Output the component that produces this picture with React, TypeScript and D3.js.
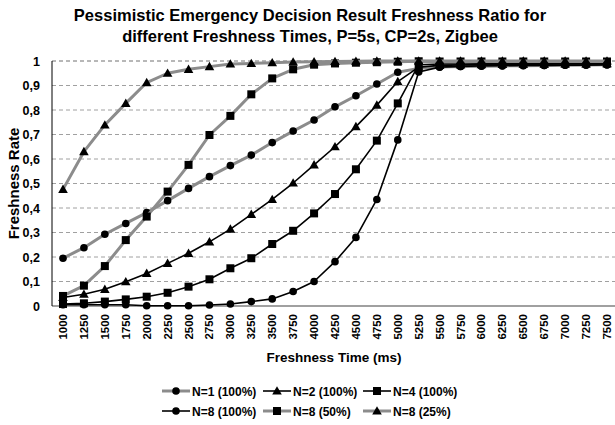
import React from "react";
import * as d3 from "d3";

const categories = [
  1000, 1250, 1500, 1750, 2000, 2250, 2500, 2750, 3000, 3250, 3500, 3750, 4000, 4250,
  4500, 4750, 5000, 5250, 5500, 5750, 6000, 6250, 6500, 6750, 7000, 7250, 7500,
];

const n1_100 = [0.195, 0.238, 0.293, 0.337, 0.381, 0.43, 0.48, 0.528, 0.573, 0.616, 0.667, 0.714, 0.759, 0.813, 0.858, 0.906, 0.954, 0.97, 0.976, 0.978, 0.979, 0.98, 0.981, 0.982, 0.983, 0.984, 0.985];
const n2_100 = [0.035, 0.048, 0.068, 0.099, 0.133, 0.174, 0.215, 0.262, 0.314, 0.374, 0.435, 0.502, 0.576, 0.65, 0.732, 0.82, 0.916, 0.975, 0.982, 0.984, 0.985, 0.986, 0.987, 0.987, 0.988, 0.988, 0.989];
const n4_100 = [0.008, 0.011, 0.018, 0.027, 0.038, 0.054, 0.079, 0.109, 0.154, 0.195, 0.253, 0.307, 0.378, 0.457, 0.558, 0.675, 0.827, 0.985, 0.988, 0.988, 0.989, 0.989, 0.99, 0.99, 0.99, 0.99, 0.99];
const n8_100 = [0.005, 0.005, 0.005, 0.005, 0.001, 0.001, 0.001, 0.004, 0.008, 0.018, 0.029, 0.059, 0.1, 0.181, 0.28, 0.435, 0.678, 0.955, 0.975, 0.978, 0.98, 0.981, 0.982, 0.982, 0.983, 0.983, 0.984];
const n8_50 = [0.041, 0.083, 0.163, 0.269, 0.365, 0.467, 0.576, 0.698, 0.776, 0.864, 0.929, 0.966, 0.985, 0.99, 0.993, 0.995, 0.997, 0.999, 0.998, 0.998, 0.998, 0.998, 0.998, 0.998, 0.998, 0.998, 0.998];
const n8_25 = [0.476, 0.63, 0.739, 0.827, 0.912, 0.95, 0.966, 0.977, 0.988, 0.99, 0.993, 0.996, 0.997, 0.998, 0.999, 1.0, 1.0, 1.0, 1.0, 1.0, 1.0, 1.0, 1.0, 1.0, 1.0, 1.0, 1.0];

const yTicks = [0, 0.1, 0.2, 0.3, 0.4, 0.5, 0.6, 0.7, 0.8, 0.9, 1];

type Marker = "circle" | "triangle" | "square";
const seriesList: { name: string; values: number[]; color: string; width: number; marker: Marker }[] = [
  { name: "N=1 (100%)", values: n1_100, color: "#8c8c8c", width: 3, marker: "circle" },
  { name: "N=2 (100%)", values: n2_100, color: "#000000", width: 1.6, marker: "triangle" },
  { name: "N=4 (100%)", values: n4_100, color: "#000000", width: 1.6, marker: "square" },
  { name: "N=8 (100%)", values: n8_100, color: "#000000", width: 1.6, marker: "circle" },
  { name: "N=8 (50%)", values: n8_50, color: "#8c8c8c", width: 3, marker: "square" },
  { name: "N=8 (25%)", values: n8_25, color: "#8c8c8c", width: 3, marker: "triangle" },
];

const FONT = "'Liberation Sans', Arial, Helvetica, sans-serif";

function MarkerShape({ type, x, y }: { type: Marker; x: number; y: number }) {
  if (type === "circle") return <circle cx={x} cy={y} r={3.8} fill="#000" />;
  if (type === "square") return <rect x={x - 4} y={y - 4} width={8} height={8} fill="#000" />;
  const s = 4.8;
  return <path d={`M${x},${y - s}L${x + s},${y + s * 0.75}L${x - s},${y + s * 0.75}Z`} fill="#000" />;
}

export default function App() {
  const W = 615;
  const H = 425;
  const plotLeft = 52;
  const plotRight = 615;
  const x = d3.scalePoint<number>().domain(categories).range([63, 607]);
  const y = d3.scaleLinear().domain([0, 1]).range([306, 61]);
  const line = d3
    .line<number>()
    .x((_, i) => x(categories[i]) as number)
    .y((d) => y(d));

  const legendCols = [162, 263, 363];
  const legendRows = [391, 411];

  return (
    <svg
      width={W}
      height={H}
      style={{ position: "absolute", left: 0, top: 0, background: "#fff" }}
      fontFamily={FONT}
    >
      <rect x={0} y={0} width={W} height={H} fill="#fff" />
      <text x={310} y={21} textAnchor="middle" fontSize={16.5} fontWeight="bold" fill="#000">
        Pessimistic Emergency Decision Result Freshness Ratio for
      </text>
      <text x={310} y={42} textAnchor="middle" fontSize={16.5} fontWeight="bold" fill="#000">
        different Freshness Times, P=5s, CP=2s, Zigbee
      </text>

      {yTicks.filter((t) => t > 0).map((t) => (
        <line
          key={t}
          x1={plotLeft}
          x2={plotRight}
          y1={y(t)}
          y2={y(t)}
          stroke={t === 1 ? "#707070" : "#a0a0a0"}
          strokeWidth={1}
          strokeDasharray="4,3"
        />
      ))}
      <line x1={plotLeft} x2={plotRight} y1={y(0)} y2={y(0)} stroke="#808080" strokeWidth={1.5} />
      <line x1={plotLeft} x2={plotLeft} y1={y(1)} y2={y(0)} stroke="#000" strokeWidth={1} />

      {yTicks.map((t) => (
        <text
          key={t}
          x={40}
          y={y(t) + 4.5}
          textAnchor="end"
          fontSize={12.5}
          fontWeight="bold"
        >
          {t === 0 ? "0" : t === 1 ? "1" : d3.format(".1f")(t).replace(".", ",")}
        </text>
      ))}
      <text
        transform={`translate(19,${(y(0) + y(1)) / 2}) rotate(-90)`}
        textAnchor="middle"
        fontSize={15}
        fontWeight="bold"
      >
        Freshness Rate
      </text>

      {categories.map((c) => (
        <text
          key={c}
          transform={`translate(${(x(c) as number) + 4},314) rotate(-90)`}
          textAnchor="end"
          fontSize={11.5}
          fontWeight="bold"
        >
          {c}
        </text>
      ))}
      <text x={334} y={362} textAnchor="middle" fontSize={13.5} fontWeight="bold">
        Freshness Time (ms)
      </text>

      {seriesList.map((s) => (
        <g key={s.name}>
          <path d={line(s.values) || ""} fill="none" stroke={s.color} strokeWidth={s.width} strokeLinejoin="round" />
          {s.values.map((v, i) => (
            <MarkerShape key={i} type={s.marker} x={x(categories[i]) as number} y={y(v)} />
          ))}
        </g>
      ))}

      {seriesList.map((s, i) => {
        const lx = legendCols[i % 3];
        const ly = legendRows[Math.floor(i / 3)];
        return (
          <g key={s.name}>
            <line x1={lx} x2={lx + 28} y1={ly} y2={ly} stroke={s.color} strokeWidth={s.width} />
            <MarkerShape type={s.marker} x={lx + 14} y={ly} />
            <text x={lx + 30} y={ly + 4.5} fontSize={12} fontWeight="bold">
              {s.name}
            </text>
          </g>
        );
      })}
    </svg>
  );
}
